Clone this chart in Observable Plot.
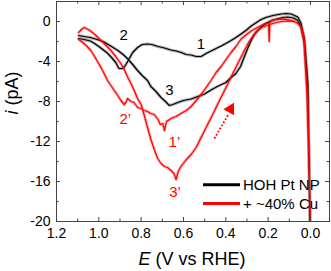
<!DOCTYPE html>
<html><head><meta charset="utf-8">
<script src="https://cdn.jsdelivr.net/npm/d3@7"></script>
<script src="https://cdn.jsdelivr.net/npm/@observablehq/plot@0.6"></script>
<style>
body{margin:0;background:#fff}
#chart{width:331px;height:271px;overflow:hidden}
</style>
</head><body><div id="chart"></div>
<script>
// ---- data (E in V vs RHE, i in pA) ----
const blackCathodic = [[1.095,-1.4],[1.07,-1.5],[1.04,-1.6],[1.0,-1.85],[0.975,-2.05],[0.94,-2.5],[0.91,-2.9],[0.885,-3.3],[0.865,-3.7],[0.84,-4.3],[0.817,-4.9],[0.795,-5.4],[0.77,-5.9],[0.754,-6.5],[0.73,-7.0],[0.706,-7.6],[0.685,-8.0],[0.667,-8.4],[0.65,-8.3],[0.627,-8.1],[0.6,-7.9],[0.564,-7.75],[0.525,-7.45],[0.5,-7.25],[0.47,-6.85],[0.44,-6.5],[0.4,-6.1],[0.375,-5.6],[0.352,-5.2],[0.33,-4.5],[0.312,-3.5],[0.295,-2.6],[0.28,-1.9],[0.265,-1.3],[0.249,-0.9],[0.225,-0.4],[0.2,-0.07],[0.175,0.15],[0.154,0.27],[0.13,0.4],[0.107,0.45],[0.08,0.35],[0.06,0.1],[0.045,-0.5],[0.03,-2.0],[0.015,-6.0],[0.006,-14],[0.002,-21]];
const blackReturn = [[0.002,-21],[0.012,-6.2],[0.028,-1.9],[0.044,-0.2],[0.06,0.45],[0.091,0.75],[0.115,0.8],[0.138,0.75],[0.165,0.65],[0.186,0.55],[0.21,0.4],[0.233,0.2],[0.255,-0.1],[0.28,-0.45],[0.305,-0.9],[0.328,-1.25],[0.352,-1.6],[0.375,-1.9],[0.4,-2.2],[0.422,-2.45],[0.446,-2.7],[0.47,-2.95],[0.493,-3.2],[0.517,-3.5],[0.54,-3.5],[0.565,-3.35],[0.587,-3.3],[0.61,-3.1],[0.635,-2.95],[0.66,-2.85],[0.69,-2.65],[0.72,-2.5],[0.75,-2.3],[0.77,-2.25],[0.795,-2.3],[0.817,-2.6],[0.84,-3.1],[0.856,-3.7],[0.872,-4.3],[0.885,-4.7],[0.905,-4.7],[0.92,-4.1],[0.94,-3.6],[0.96,-3.15],[0.975,-2.9],[1.0,-2.5],[1.02,-2.2],[1.04,-1.95],[1.06,-1.85],[1.095,-1.7]];
const redCathodic = [[1.095,-1.1],[1.08,-0.75],[1.069,-0.6],[1.05,-0.8],[1.03,-1.1],[1.006,-1.55],[0.975,-2.2],[0.943,-2.9],[0.92,-3.5],[0.896,-4.2],[0.88,-4.8],[0.864,-5.55],[0.848,-6.2],[0.833,-6.9],[0.817,-7.7],[0.8,-8.3],[0.785,-9.4],[0.77,-10.6],[0.754,-11.8],[0.738,-12.8],[0.722,-13.7],[0.706,-14.2],[0.69,-14.5],[0.675,-14.6],[0.659,-14.9],[0.645,-15.2],[0.635,-15.8],[0.625,-15.0],[0.612,-14.5],[0.59,-13.9],[0.564,-13.3],[0.54,-12.6],[0.517,-11.6],[0.493,-10.6],[0.462,-9.3],[0.43,-7.9],[0.399,-6.6],[0.367,-5.2],[0.336,-3.9],[0.312,-2.9],[0.29,-2.0],[0.27,-1.4],[0.25,-0.9],[0.23,-0.6],[0.2,-0.35],[0.17,-0.15],[0.14,0.0],[0.107,0.05],[0.08,0.0],[0.06,-0.15],[0.045,-0.6],[0.03,-2.0],[0.015,-8],[0.005,-16],[0.0,-21]];
const redReturn = [[0.0,-21],[0.012,-8],[0.03,-1.5],[0.045,-0.5],[0.06,-0.2],[0.08,0.05],[0.1,0.15],[0.138,0.27],[0.165,0.2],[0.186,0.1],[0.192,-0.2],[0.195,-2.0],[0.198,-0.2],[0.21,-0.15],[0.233,-0.4],[0.255,-0.65],[0.28,-0.95],[0.305,-1.35],[0.328,-1.75],[0.352,-2.5],[0.375,-3.1],[0.399,-3.8],[0.422,-4.5],[0.446,-5.1],[0.47,-5.9],[0.493,-6.6],[0.517,-7.3],[0.54,-7.9],[0.564,-8.5],[0.587,-8.9],[0.612,-9.2],[0.635,-9.5],[0.659,-9.7],[0.68,-10.0],[0.69,-10.9],[0.698,-10.2],[0.71,-10.3],[0.72,-9.8],[0.738,-9.3],[0.755,-9.2],[0.77,-9.0],[0.785,-8.9],[0.8,-8.7],[0.817,-8.6],[0.833,-8.1],[0.848,-8.0],[0.864,-7.7],[0.872,-8.1],[0.88,-8.3],[0.896,-7.9],[0.91,-7.4],[0.927,-6.9],[0.943,-6.4],[0.959,-5.9],[0.975,-5.2],[0.99,-4.6],[1.006,-4.0],[1.02,-3.5],[1.038,-2.9],[1.055,-2.5],[1.07,-2.2],[1.095,-1.8]];

const seriesNames = ["HOH Pt NP", "+ ~40% Cu"];
const seriesColors = ["#000000", "#ff0000"];

const peakLabels = ["1", "2", "3", "2\u2019", "1\u2019", "3\u2019"];
const peakE = [0.517, 0.883, 0.667, 0.875, 0.643, 0.64];
const peakI = [-2.25, -1.35, -6.85, -9.75, -12.1, -17.1];
const peakColor = ["#000", "#000", "#000", "#ff0000", "#ff0000", "#ff0000"];

const arrowE = [0.454, 0.388];
const arrowI = [-11.7, -9.3];
const arrowHeadE = [0.378];
const arrowHeadI = [-8.75];

const xMajor = [1.2, 1.0, 0.8, 0.6, 0.4, 0.2, 0.0];
const xMinor = [1.1, 0.9, 0.7, 0.5, 0.3, 0.1];
const yMajor = [0, -4, -8, -12, -16, -20];
const yMinor = [-2, -6, -10, -14, -18];

// ---- build tables ----
const toRows = (arr) => arr.map(([E, i]) => ({E, i}));
const blackRows = toRows(blackCathodic.concat(blackReturn));
const redRows = toRows(redCathodic.concat(redReturn));
const labelRows = peakLabels.map((t, k) => ({t, E: peakE[k], i: peakI[k], c: peakColor[k]}));

const W = 331, H = 271, mL = 56, mR = 2, mT = 1, mB = 50;
const fw = W - mL - mR, fh = H - mT - mB;
const frameCol = "#444";
const font = "'Liberation Sans', Arial, Helvetica, sans-serif";

const plot = Plot.plot({
  width: W, height: H,
  marginLeft: mL, marginRight: mR, marginTop: mT, marginBottom: mB,
  style: {fontFamily: font, background: "#fff", color: "#000"},
  x: {domain: [1.2, -0.09], label: null},
  y: {domain: [-20, 2], label: null},
  marks: [
    // noisy band + core
    Plot.line(blackRows, {x: "E", y: "i", stroke: "#000", strokeWidth: 3, strokeOpacity: 0.3, clip: true}),
    Plot.line(blackRows, {x: "E", y: "i", stroke: "#000", strokeWidth: 1.2, clip: true}),
    Plot.line(redRows, {x: "E", y: "i", stroke: "#ff0000", strokeWidth: 3, strokeOpacity: 0.3, clip: true}),
    Plot.line(redRows, {x: "E", y: "i", stroke: "#ff0000", strokeWidth: 1.2, clip: true}),
    // annotations
    Plot.text(labelRows, {x: "E", y: "i", text: "t", fill: "c", fontSize: 15, textAnchor: "middle", lineAnchor: "middle"}),
    Plot.link([0], {x1: () => arrowE[0], y1: () => arrowI[0], x2: () => arrowE[1], y2: () => arrowI[1], stroke: "#ff0000", strokeWidth: 2, strokeDasharray: "1.6,2"}),
    Plot.dot([0], {x: () => arrowHeadE[0], y: () => arrowHeadI[0], symbol: "triangle", r: 4.6, fill: "#ff0000", stroke: "none", rotate: 29}),
    // frame and inward ticks
    Plot.frame({stroke: frameCol, strokeWidth: 1}),
    Plot.tickX(xMajor, {x: d => d, insetTop: fh - 4, stroke: frameCol}),
    Plot.tickX(xMinor, {x: d => d, insetTop: fh - 2.5, stroke: frameCol}),
    Plot.tickX(xMajor, {x: d => d, insetBottom: fh - 4, stroke: frameCol}),
    Plot.tickX(xMinor, {x: d => d, insetBottom: fh - 2.5, stroke: frameCol}),
    Plot.tickY(yMajor, {y: d => d, insetRight: fw - 4, stroke: frameCol}),
    Plot.tickY(yMinor, {y: d => d, insetRight: fw - 2.5, stroke: frameCol}),
    Plot.tickY(yMajor, {y: d => d, insetLeft: fw - 4, stroke: frameCol}),
    Plot.tickY(yMinor, {y: d => d, insetLeft: fw - 2.5, stroke: frameCol}),
    Plot.axisX({ticks: xMajor, tickSize: 0, tickPadding: 7, tickFormat: d => d.toFixed(1), fontSize: 14, label: null}),
    Plot.axisY({ticks: yMajor, tickSize: 0, tickPadding: 6, tickFormat: d => String(d), fontSize: 14, label: null})
  ]
});

const svg = d3.select(plot);
// axis titles
const xt = svg.append("text").attr("x", 192).attr("y", 265).attr("text-anchor", "middle")
  .attr("font-size", 18).attr("font-family", font).attr("fill", "#000");
xt.append("tspan").attr("font-style", "italic").text("E");
xt.append("tspan").text(" (V vs RHE)");
const yt = svg.append("text").attr("transform", "translate(18,93) rotate(-90)").attr("text-anchor", "middle")
  .attr("font-size", 18).attr("font-family", font).attr("fill", "#000");
yt.append("tspan").attr("font-style", "italic").text("i");
yt.append("tspan").text(" (pA)");
// legend
const legY = [184.7, 203.5];
seriesNames.forEach((name, k) => {
  svg.append("line").attr("x1", 203).attr("x2", 240).attr("y1", legY[k]).attr("y2", legY[k])
    .attr("stroke", seriesColors[k]).attr("stroke-width", 3);
  svg.append("text").attr("x", 243).attr("y", legY[k] + 5.3).attr("font-size", 15)
    .attr("text-anchor", "start")
    .attr("font-family", font).attr("fill", "#000").text(name);
});

document.getElementById("chart").appendChild(plot);
</script>
</body></html>
